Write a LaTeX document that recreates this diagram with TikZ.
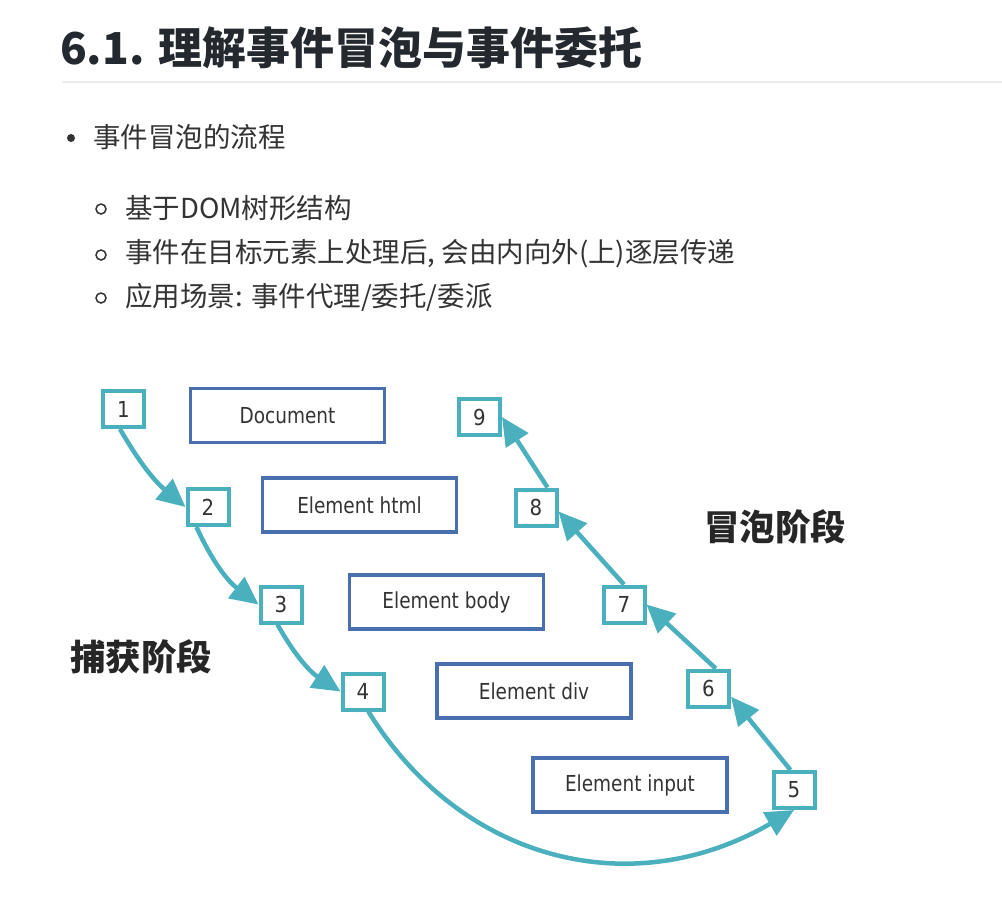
\documentclass[tikz,border=0pt]{standalone}
\usepackage{fontspec}
\newfontfamily\cjk{Noto Sans CJK SC}
\newfontfamily\boxfont[FakeStretch=0.84]{DejaVu Sans}
\newfontfamily\digitfont[FakeStretch=0.9]{DejaVu Sans}
\usetikzlibrary{arrows.meta}
\definecolor{tealc}{HTML}{4BB0BE}
\definecolor{bluec}{HTML}{4A6FAE}
\definecolor{txt}{HTML}{333333}
\definecolor{titlec}{HTML}{24292F}
\definecolor{sepc}{HTML}{EAECEF}
\tikzset{
  numbox/.style={draw=tealc, line width=4pt, minimum width=41pt, minimum height=36pt, inner sep=0pt, fill=white, text=txt, font=\digitfont\fontsize{22}{24}\selectfont},
  elbox/.style={draw=bluec, line width=3.8pt, minimum width=194pt, minimum height=54pt, inner sep=0pt, fill=white, text=txt, font=\boxfont\fontsize{22}{24}\selectfont},
  arr/.style={draw=tealc, line width=4.5pt, -{Triangle[length=28pt,width=26pt]}},
  bullettxt/.style={anchor=west, inner sep=0pt, text=txt, font=\cjk\fontsize{27.5}{30}\selectfont},
  phase/.style={inner sep=0pt, text=black!85, font=\cjk\bfseries\fontsize{35.5}{38}\selectfont},
  hollow/.style={circle, draw=txt, line width=1.5pt, minimum size=10pt, inner sep=0pt},
  solid/.style={circle, fill=txt, minimum size=8pt, inner sep=0pt}
}
\begin{document}
\begin{tikzpicture}[x=1pt,y=-1pt]
\fill[white] (0,0) rectangle (1002,897);
\useasboundingbox (0,0) rectangle (1002,897);
% title
\node[anchor=west, inner sep=0pt, text=titlec, font=\cjk\bfseries\fontsize{44}{48}\selectfont] (title) at (60,48) {6.1. 理解事件冒泡与事件委托};
\coordinate (sepL) at (62,82);
\coordinate (sepR) at (1002,82);
\draw[sepc, line width=2pt] (sepL) -- (sepR);
% bullets
\node[solid] (b0) at (71,138) {};
\node[bullettxt] (t0) at (93,137) {事件冒泡的流程};
\node[hollow] (b1) at (101,209) {};
\node[bullettxt] (t1) at (125,208) {基于DOM树形结构};
\node[hollow] (b2) at (101,255) {};
\node[bullettxt] (t2) at (125,254) {事件在目标元素上处理后, 会由内向外(上)逐层传递};
\node[hollow] (b3) at (101,298) {};
\node[bullettxt] (t3) at (125,297) {应用场景: 事件代理/委托/委派};
% element boxes
\node[elbox] (doc) at (287.5,415.5) {Document};
\node[elbox] (html) at (359.5,505) {Element html};
\node[elbox] (body) at (446.5,602) {Element body};
\node[elbox] (div) at (534,691) {Element div};
\node[elbox] (inp) at (630,785) {Element input};
% number boxes
\node[numbox] (n1) at (123.5,409) {1};
\node[numbox] (n2) at (208,507) {2};
\node[numbox] (n3) at (281,604.5) {3};
\node[numbox] (n4) at (363,691.5) {4};
\node[numbox] (n5) at (794,790) {5};
\node[numbox] (n6) at (708.5,688.5) {6};
\node[numbox] (n7) at (624,604.5) {7};
\node[numbox] (n8) at (536,507.5) {8};
\node[numbox] (n9) at (479.5,417) {9};
% phase labels
\node[phase] (cap) at (141,657) {捕获阶段};
\node[phase] (bub) at (775,527) {冒泡阶段};
% capture arrows
\draw[arr] (n1.-100) to[bend right=10] (n2.west);
\draw[arr] (n2.-120) to[bend right=14] (n3.west);
\draw[arr] (n3.-100) to[bend right=14] (n4.west);
\draw[arr] (n4.-75) .. controls (460,860) and (630,905) .. (n5.south);
% bubble arrows
\draw[arr] (n5.100) -- (n6.-20);
\draw[arr] (n6.70) -- (n7.east);
\draw[arr] (n7.north) -- (n8.-10);
\draw[arr] (n8.60) -- (n9.east);
\end{tikzpicture}
\end{document}
